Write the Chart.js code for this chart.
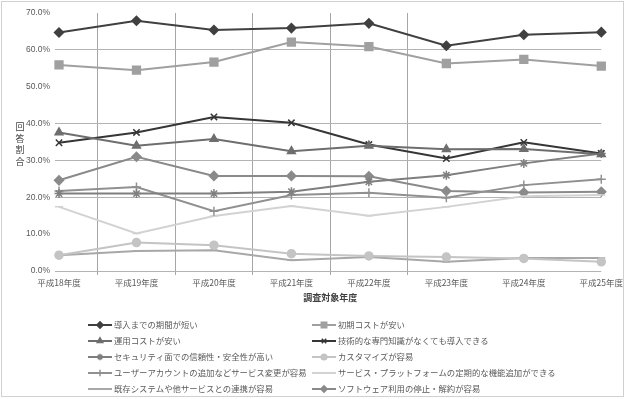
<!DOCTYPE html>
<html>
<head>
<meta charset="utf-8">
<script src="https://cdn.jsdelivr.net/npm/chart.js"></script>
<style>
  body { margin: 0; background: #fff; }
  #chart { display: block; }
</style>
</head>
<body>
<canvas id="chart" width="626" height="399"></canvas>
<script>
var years = ['平成18年度', '平成19年度', '平成20年度', '平成21年度', '平成22年度', '平成23年度', '平成24年度', '平成25年度'];
var yTitle = '回答割合';
var xTitle = '調査対象年度';

// 回答割合（%）
var dounyuKikan   = [64.7, 67.9, 65.4, 65.9, 67.2, 61.1, 64.1, 64.8];
var shokiCost     = [55.9, 54.5, 56.7, 62.1, 60.9, 56.3, 57.4, 55.6];
var unyouCost     = [37.6, 34.0, 35.8, 32.5, 34.0, 33.0, 33.1, 31.7];
var senmonChishiki= [34.8, 37.6, 41.8, 40.2, 34.3, 30.5, 34.9, 31.9];
var security      = [21.0, 21.0, 21.0, 21.5, 24.2, 26.0, 29.2, 31.9];
var customize     = [4.3, 7.7, 7.0, 4.7, 4.1, 3.8, 3.4, 2.5];
var userAccount   = [21.7, 22.8, 16.2, 20.6, 21.2, 19.9, 23.3, 24.9];
var kinouTsuika   = [17.4, 10.2, 14.9, 17.6, 15.0, 17.4, 20.3, 20.6];
var renkei        = [4.3, 5.4, 5.6, 2.9, 3.8, 2.5, 3.5, 3.5];
var kaiyaku       = [24.6, 31.0, 25.8, 25.8, 25.7, 21.7, 21.3, 21.5];

function series(label, data, color, style, r) {
    return {
        label: label,
        data: data,
        borderColor: color,
        backgroundColor: color,
        borderWidth: 2,
        pointStyle: style,
        pointRadius: r,
        pointHoverRadius: r,
        pointBackgroundColor: color,
        pointBorderColor: color,
        pointBorderWidth: 1.5,
        tension: 0
    };
}

var frameAndLegend = {
    id: 'frameAndLegend',
    afterDraw: function(chart) {
        var ctx = chart.ctx;
        ctx.save();
        ctx.strokeStyle = '#d0d0d0';
        ctx.lineWidth = 1;
        ctx.strokeRect(1.5, 1.5, 622, 395);

        ctx.fillStyle = '#404040';
        ctx.font = '9px "Noto Sans CJK JP"';
        ctx.textAlign = 'center';
        ctx.textBaseline = 'middle';
        Array.from(yTitle).forEach(function(c, i) {
            ctx.fillText(c, 20, 127 + i * 11.5);
        });

        chart.data.datasets.forEach(function(ds, i) {
            var x = i % 2 ? 312 : 88;
            var y = 325 + Math.floor(i / 2) * 16;
            ctx.strokeStyle = ds.borderColor;
            ctx.lineWidth = 2;
            ctx.beginPath();
            ctx.moveTo(x, y);
            ctx.lineTo(x + 24, y);
            ctx.stroke();
            ctx.fillStyle = ds.pointBackgroundColor;
            ctx.strokeStyle = ds.pointBorderColor;
            ctx.lineWidth = 1.5;
            if (Chart.helpers && Chart.helpers.drawPoint) {
                Chart.helpers.drawPoint(ctx, {
                    pointStyle: ds.pointStyle, radius: ds.pointRadius * 0.7,
                    borderWidth: 1.5, rotation: 0
                }, x + 12, y);
            }
            ctx.fillStyle = '#595959';
            ctx.textAlign = 'left';
            ctx.font = '8.4px "Noto Sans CJK JP"';
            ctx.fillText(ds.label, x + 26, y);
        });
        ctx.restore();
    }
};

var hGrid = [0, 20, 30, 40, 60];

var chartEl = document.getElementById('chart').getContext('2d');
var chart = new Chart(chartEl, {
    type: 'line',
    data: {
        labels: years,
        datasets: [
            series('導入までの期間が短い', dounyuKikan, '#404040', 'rectRot', 4.5),
            series('初期コストが安い', shokiCost, '#a0a0a0', 'rect', 5.5),
            series('運用コストが安い', unyouCost, '#6e6e6e', 'triangle', 4.5),
            series('技術的な専門知識がなくても導入できる', senmonChishiki, '#363636', 'crossRot', 4.5),
            series('セキュリティ面での信頼性・安全性が高い', security, '#7f7f7f', 'star', 4.5),
            series('カスタマイズが容易', customize, '#c4c4c4', 'circle', 4),
            series('ユーザーアカウントの追加などサービス変更が容易', userAccount, '#909090', 'cross', 4.5),
            series('サービス・プラットフォームの定期的な機能追加ができる', kinouTsuika, '#d2d2d2', 'line', 4),
            series('既存システムや他サービスとの連携が容易', renkei, '#a8a8a8', 'line', 4),
            series('ソフトウェア利用の停止・解約が容易', kaiyaku, '#8a8a8a', 'rectRot', 4.5)
        ]
    },
    options: {
        responsive: false,
        animation: false,
        devicePixelRatio: 1,
        layout: { padding: { top: 13, right: 15, bottom: 92, left: 0 } },
        plugins: {
            legend: { display: false },
            tooltip: { enabled: false }
        },
        font: { family: '"Noto Sans CJK JP"' },
        scales: {
            x: {
                afterFit: function(scale) { scale.height = 36; },
                border: { display: false },
                grid: {
                    offset: true,
                    tickLength: 4,
                    color: function(c) { return c.index >= 1 && c.index <= 5 ? '#a6a6a6' : 'rgba(0,0,0,0)'; }
                },
                ticks: {
                    autoSkip: false, maxRotation: 0, padding: 3,
                    color: '#595959',
                    font: { family: '"Noto Sans CJK JP"', size: 8.5 }
                },
                title: {
                    display: true, text: xTitle, color: '#404040',
                    padding: { top: 0, bottom: 4 },
                    font: { family: '"Noto Sans CJK JP"', size: 9, weight: 'bold' }
                }
            },
            y: {
                min: 0, max: 70,
                afterFit: function(scale) { scale.width = 59; },
                border: { display: false },
                grid: {
                    tickLength: 4,
                    color: function(c) { return c.tick && hGrid.indexOf(c.tick.value) >= 0 ? '#b3b3b3' : 'rgba(0,0,0,0)'; }
                },
                ticks: {
                    stepSize: 10, padding: 5,
                    color: '#595959',
                    font: { family: 'Liberation Sans', size: 8.5 },
                    callback: function(v) { return v.toFixed(1) + '%'; }
                }
            }
        }
    },
    plugins: [frameAndLegend]
});
</script>
</body>
</html>
